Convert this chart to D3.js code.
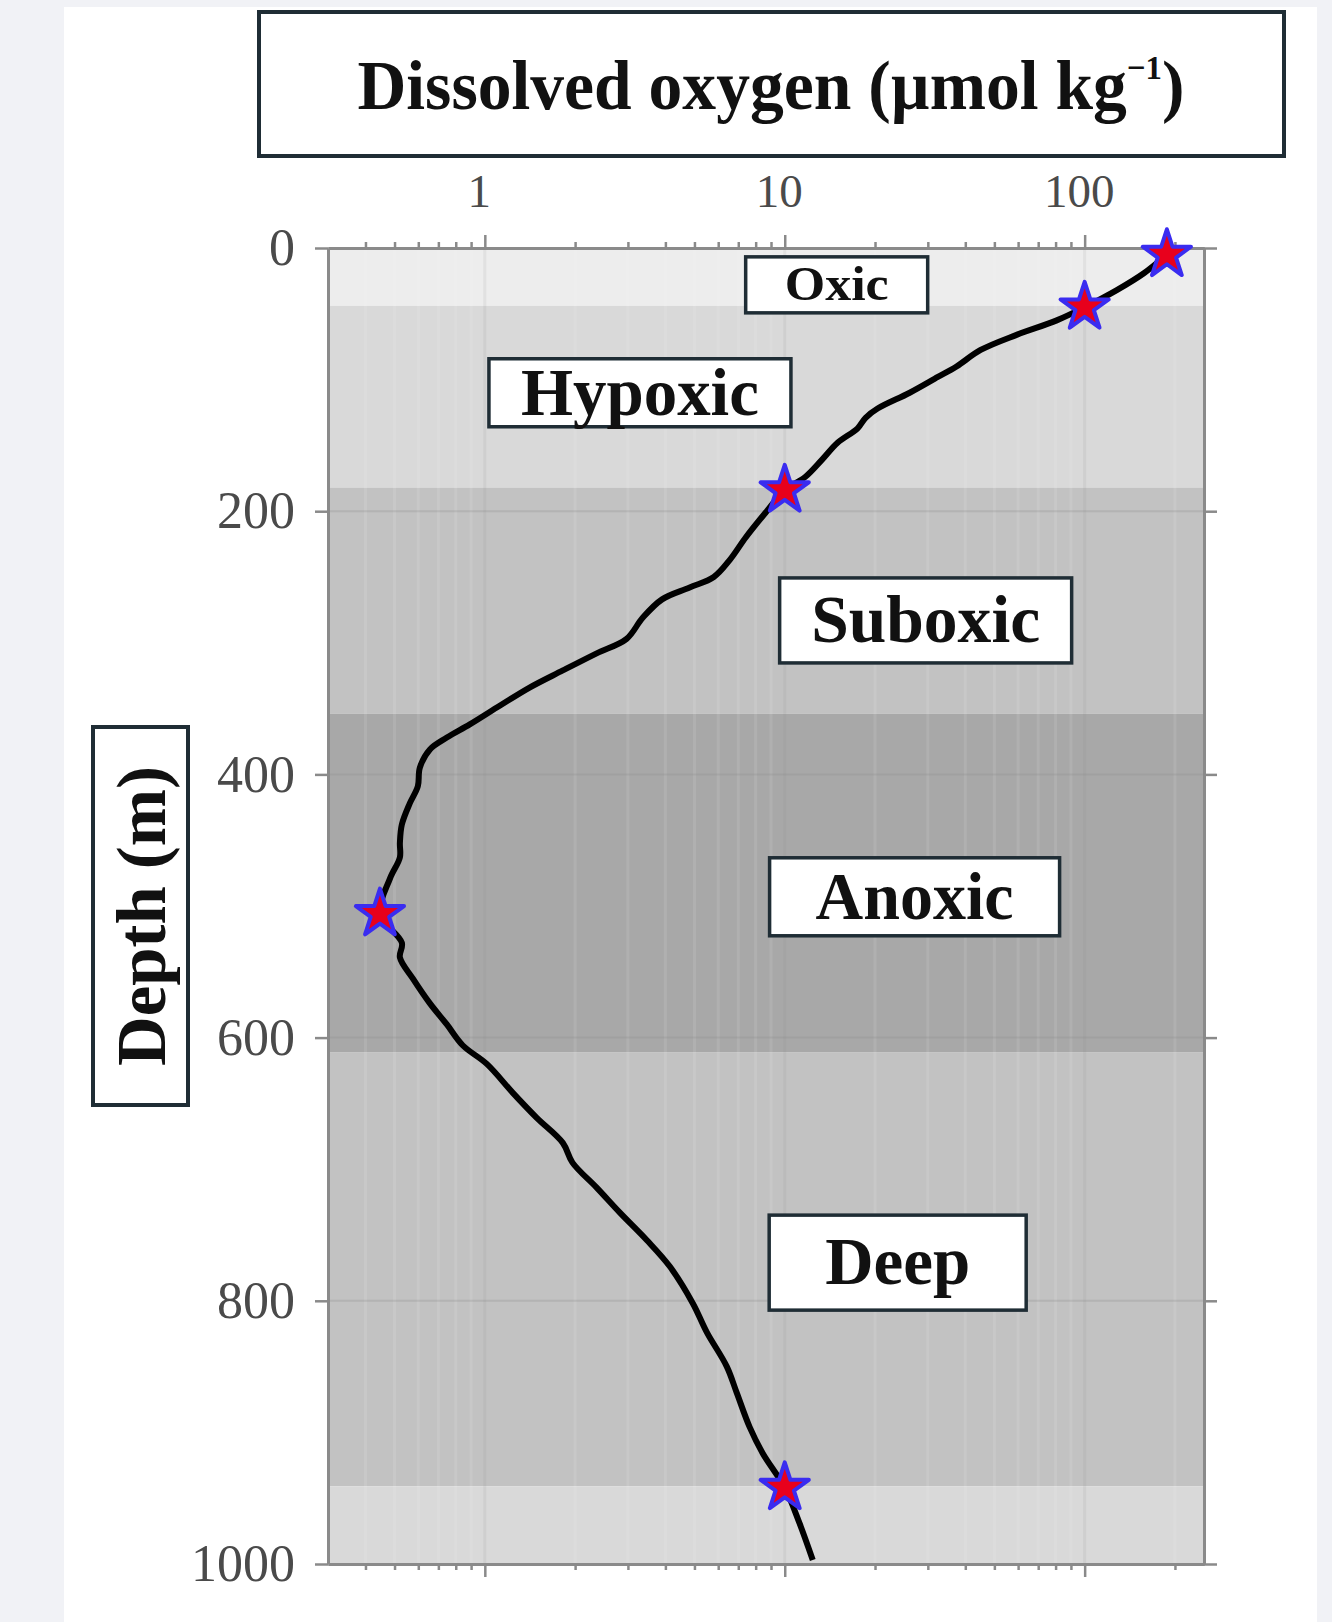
<!DOCTYPE html>
<html>
<head>
<meta charset="utf-8">
<script src="https://cdn.jsdelivr.net/npm/d3@7"></script>
<style>
  body { margin: 0; background: #f1f2f6; }
  svg { display: block; }
  text { font-family: "Liberation Serif", "Times New Roman", serif; }
</style>
</head>
<body>
<div id="container"></div>
<script>
// oxygen profile (depth in m, O2 in umol/kg)
const profileDepth = [5, 19, 32, 45, 55, 66, 77.5, 90, 98, 110, 122, 129, 137, 148, 161, 174, 184,
	201, 220, 237, 250, 258, 267, 281, 297, 308, 321, 334, 349, 362, 372, 381, 395, 409, 422,
	438, 452, 463, 479, 506, 528, 539, 555, 574, 590, 606, 620, 642, 661, 680, 695, 714, 733,
	754, 774, 802, 824, 850, 870, 896, 916, 942, 969, 997];
const profileO2 = [188, 158, 128, 100, 80.7, 59.3, 45, 37.4, 32.4, 26.1, 20.4, 18.6, 17.5, 15.0, 13.3, 11.7, 10.0,
	8.64, 7.41, 6.56, 5.8, 4.82, 3.9, 3.36, 2.97, 2.36, 1.82, 1.41, 1.10, 0.891, 0.747, 0.656, 0.607, 0.598, 0.562,
	0.529, 0.521, 0.521, 0.483, 0.447, 0.529, 0.521, 0.575, 0.656, 0.747, 0.845, 1.015, 1.24, 1.49, 1.82, 1.96, 2.36, 2.82,
	3.47, 4.14, 4.94, 5.5, 6.41, 6.92, 7.64, 8.45, 10.0, 11.2, 12.4];

// threshold crossings marked with stars
const starDepth = [5, 45, 184, 506, 942];
const starO2 = [188, 100, 10, 0.447, 10];

// shaded oxygen classes
const bandTop = [0, 44, 182, 354, 611, 941];
const bandBottom = [44, 182, 354, 611, 941, 1000];
const bandClass = ['oxic', 'hypoxic', 'suboxic', 'anoxic', 'suboxic', 'hypoxic'];

// zone labels, anchored in data units
const zoneNames = ['Oxic', 'Hypoxic', 'Suboxic', 'Anoxic', 'Deep'];
const zoneO2 = [14.9, 3.29, 29.5, 27.1, 23.8];
const zoneDepth = [28, 110, 283, 493, 771];

const xMajor = [1, 10, 100];
const xMinor = [0.4, 0.5, 0.6, 0.7, 0.8, 0.9, 2, 3, 4, 5, 6, 7, 8, 9, 20, 30, 40, 50, 60, 70, 80, 90, 200];
const yTicks = [0, 200, 400, 600, 800, 1000];

// layout
var width = 1332,
	height = 1622;
var zoneBox = [[182, 56], [302, 68], [292, 85], [290, 78], [257, 95]],
	zoneFont = [48, 68, 68, 68, 68],
	zoneTextWidth = [104, 238, 229, 198, 145];
var boxStroke = '#1f2d35',
	axisGrey = '#8a8a8a',
	labelGrey = '#4a4a4a';

var bandColor = d3.scaleOrdinal()
	.domain(['oxic', 'hypoxic', 'suboxic', 'anoxic'])
	.range(['#ededed', '#d9d9d9', '#c2c2c2', '#a8a8a8']);

var xScale = d3.scaleLog()
	.domain([0.3, 250])
	.range([328, 1204]);

var yScale = d3.scaleLinear()
	.domain([0, 1000])
	.range([248, 1564]);

var x0 = xScale.range()[0], x1 = xScale.range()[1],
	y0 = yScale.range()[0], y1 = yScale.range()[1];

var svg = d3.select('#container').append('svg')
	.attr('width', width)
	.attr('height', height);

svg.append('rect')
	.attr('x', 64).attr('y', 7)
	.attr('width', 1253).attr('height', height - 7)
	.attr('fill', '#fff');

// bands
svg.append('g').selectAll('rect')
	.data(bandTop)
	.enter()
		.append('rect')
		.attr('x', x0)
		.attr('width', x1 - x0)
		.attr('y', (d) => yScale(d))
		.attr('height', (d, i) => yScale(bandBottom[i]) - yScale(d))
		.attr('fill', (d, i) => bandColor(bandClass[i]));

// faint grid
var grid = svg.append('g');
grid.selectAll('line.minor')
	.data(xMinor)
	.enter()
		.append('line')
		.attr('x1', (d) => xScale(d)).attr('x2', (d) => xScale(d))
		.attr('y1', y0).attr('y2', y1)
		.attr('stroke', '#fff')
		.attr('stroke-opacity', 0.1)
		.attr('stroke-width', 3);
grid.selectAll('line.major')
	.data(xMajor)
	.enter()
		.append('line')
		.attr('x1', (d) => xScale(d)).attr('x2', (d) => xScale(d))
		.attr('y1', y0).attr('y2', y1)
		.attr('stroke', '#888')
		.attr('stroke-opacity', 0.12)
		.attr('stroke-width', 3);
grid.selectAll('line.h')
	.data(yTicks.slice(1, -1))
	.enter()
		.append('line')
		.attr('x1', x0).attr('x2', x1)
		.attr('y1', (d) => yScale(d)).attr('y2', (d) => yScale(d))
		.attr('stroke', '#888')
		.attr('stroke-opacity', 0.25)
		.attr('stroke-width', 2);

// axes
function styleAxis(g) {
	g.select('.domain').attr('stroke', axisGrey).attr('stroke-width', 3);
	g.selectAll('.tick line').attr('stroke', axisGrey).attr('stroke-width', 2.5);
	g.selectAll('.tick text').attr('fill', labelGrey).attr('font-family', '"Liberation Serif", serif');
}

svg.append('g')
	.attr('transform', `translate(0,${y0})`)
	.call(d3.axisTop(xScale).tickValues(xMinor).tickSize(6).tickSizeOuter(0).tickFormat(''))
	.call(styleAxis);
svg.append('g')
	.attr('transform', `translate(0,${y0})`)
	.call(d3.axisTop(xScale).tickValues(xMajor).tickSize(13).tickSizeOuter(0).tickPadding(28).tickFormat(d3.format('d')))
	.call(styleAxis)
	.call((g) => g.selectAll('.tick text').attr('font-size', 47).attr('dx', -6));

svg.append('g')
	.attr('transform', `translate(0,${y1})`)
	.call(d3.axisBottom(xScale).tickValues(xMinor).tickSize(6).tickSizeOuter(0).tickFormat(''))
	.call(styleAxis);
svg.append('g')
	.attr('transform', `translate(0,${y1})`)
	.call(d3.axisBottom(xScale).tickValues(xMajor).tickSize(13).tickSizeOuter(0).tickFormat(''))
	.call(styleAxis);

svg.append('g')
	.attr('transform', `translate(${x0},0)`)
	.call(d3.axisLeft(yScale).tickValues(yTicks).tickSize(13).tickSizeOuter(0).tickPadding(20).tickFormat(d3.format('d')))
	.call(styleAxis)
	.call((g) => g.selectAll('.tick text').attr('font-size', 52));
svg.append('g')
	.attr('transform', `translate(${x1},0)`)
	.call(d3.axisRight(yScale).tickValues(yTicks).tickSize(13).tickSizeOuter(0).tickFormat(''))
	.call(styleAxis);

// profile
var line = d3.line()
	.x((d, i) => xScale(profileO2[i]))
	.y((d) => yScale(d))
	.curve(d3.curveCatmullRom.alpha(0.5));

svg.append('path')
	.attr('d', line(profileDepth))
	.attr('fill', 'none')
	.attr('stroke', '#000')
	.attr('stroke-width', 6)
	.attr('stroke-linejoin', 'round');

svg.append('g').selectAll('path')
	.data(starDepth)
	.enter()
		.append('path')
		.attr('d', d3.symbol().type(d3.symbolStar).size(720))
		.attr('transform', (d, i) => `translate(${xScale(starO2[i])},${yScale(d)})`)
		.attr('fill', '#e8001c')
		.attr('stroke', '#3a2cf0')
		.attr('stroke-width', 4)
		.attr('stroke-linejoin', 'round');

// squeeze a text element horizontally to a given width, about cx
function fitWidth(sel, cx, w) {
	var bw = sel.node().getBBox().width;
	sel.attr('transform', `translate(${cx},0) scale(${w / bw},1) translate(${-cx},0)`);
}

// zone labels
var zones = svg.append('g').selectAll('g')
	.data(zoneNames)
	.enter()
		.append('g')
		.attr('transform', (d, i) => `translate(${xScale(zoneO2[i])},${yScale(zoneDepth[i])})`);
zones.append('rect')
	.attr('x', (d, i) => -zoneBox[i][0] / 2)
	.attr('y', (d, i) => -zoneBox[i][1] / 2)
	.attr('width', (d, i) => zoneBox[i][0])
	.attr('height', (d, i) => zoneBox[i][1])
	.attr('fill', '#fff')
	.attr('stroke', boxStroke)
	.attr('stroke-width', 3.5);
zones.append('text')
	.attr('text-anchor', 'middle')
	.attr('y', (d, i) => zoneFont[i] * 0.32)
	.attr('font-size', (d, i) => zoneFont[i])
	.attr('font-weight', 'bold')
	.attr('fill', '#111')
	.text((d) => d)
	.each(function(d, i) { fitWidth(d3.select(this), 0, zoneTextWidth[i]); });

// title box
svg.append('rect')
	.attr('x', 259).attr('y', 12)
	.attr('width', 1025).attr('height', 144)
	.attr('fill', '#fff')
	.attr('stroke', boxStroke)
	.attr('stroke-width', 4);
var title = svg.append('text')
	.attr('x', 771).attr('y', 109)
	.attr('text-anchor', 'middle')
	.attr('font-size', 70)
	.attr('font-weight', 'bold')
	.attr('fill', '#111');
title.append('tspan').text('Dissolved oxygen (\u00b5mol kg');
title.append('tspan').attr('font-size', 34).attr('dy', -30).text('\u22121');
title.append('tspan').attr('dy', 30).text(')');
fitWidth(title, 771, 827);

// depth label
svg.append('rect')
	.attr('x', 93).attr('y', 727)
	.attr('width', 95).attr('height', 378)
	.attr('fill', '#fff')
	.attr('stroke', boxStroke)
	.attr('stroke-width', 4);
svg.append('text')
	.attr('transform', 'translate(165,916) rotate(-90)')
	.attr('text-anchor', 'middle')
	.attr('font-size', 70)
	.attr('font-weight', 'bold')
	.attr('fill', '#111')
	.attr('textLength', 300)
	.attr('lengthAdjust', 'spacingAndGlyphs')
	.text('Depth (m)');
</script>
</body>
</html>
